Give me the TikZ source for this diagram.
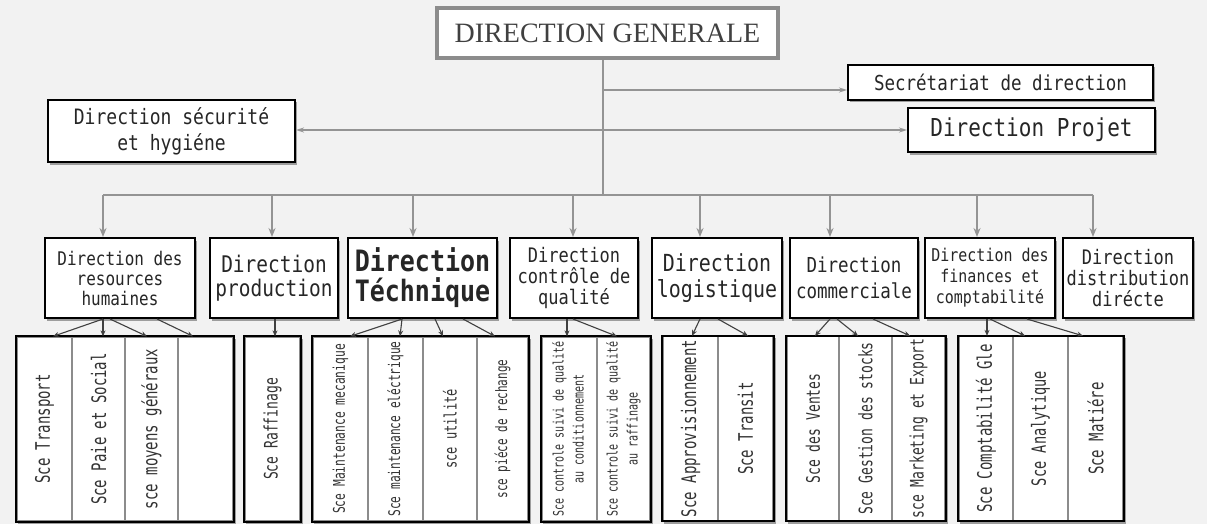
\documentclass[tikz,border=0pt]{standalone}
\usepackage{fontspec}
\setmainfont{Liberation Serif}
\newfontfamily\chartfont[FakeStretch=0.85]{DejaVu Sans Mono}
\newfontfamily\svcfont[FakeStretch=0.7]{DejaVu Sans Mono}
\usetikzlibrary{arrows.meta,shadows,calc}
\pgfdeclarelayer{paper}
\pgfdeclarelayer{under}
\pgfsetlayers{paper,under,main}

\begin{document}
\begin{tikzpicture}[x=1pt,y=-1pt,
  fs/.style 2 args={font=\chartfont\fontsize{#1}{#2}\selectfont},
  fb/.style 2 args={font=\chartfont\fontsize{#1}{#2}\selectfont\bfseries},
  sv/.style 2 args={font=\svcfont\fontsize{#1}{#2}\selectfont},
  softshadow/.style={drop shadow={shadow xshift=2pt,shadow yshift=-2.5pt,fill=black,opacity=0.35}},
  unitbox/.style={draw=black, line width=2pt, fill=white, align=center, inner sep=1pt,
    text=black!85, softshadow},
  headbox/.style={draw=black!45, line width=4.5pt, fill=white, inner sep=0pt, text=black!75,
    font=\fontsize{28}{32}\selectfont, softshadow},
  col/.style={draw=black!45, line width=1.3pt, fill=white, inner sep=0pt,
    minimum height=184pt, text=black!80},
  grp/.style={draw=black, line width=2pt},
  feed/.style={draw=black!42, line width=2.2pt, -{Stealth[length=9pt,width=7pt]}},
  side/.style={draw=black!42, line width=1.6pt, -{Stealth[length=8pt,width=5pt]}},
  link/.style={draw=black!75, line width=1.1pt, -{Stealth[length=6pt,width=5pt]}},
]
\begin{pgfonlayer}{paper}
  \fill[black!5] (0,0) rectangle (1207,524);
\end{pgfonlayer}
\useasboundingbox (0,0) rectangle (1207,524);

% ---------- top management ----------
\node[headbox, minimum width=341pt, minimum height=50pt] (dg) at (607.5,33) {DIRECTION GENERALE};

\node[unitbox, fs={20.6}{24}, minimum width=305pt, minimum height=35pt] (secr) at (1000.5,82.5) {Secrétariat de direction};
\node[unitbox, fs={24.7}{28}, minimum width=247pt, minimum height=44pt] (proj) at (1031.5,130) {Direction Projet};
\node[unitbox, fs={21.2}{26}, minimum width=247pt, minimum height=62pt] (secu) at (171.5,131) {Direction sécurité\\et hygiéne};

\coordinate (trunk) at (603,195);
\coordinate (tsec) at (603,90);
\coordinate (tmid) at (603,130);
\coordinate (busL) at (103,195);
\coordinate (busR) at (1093,195);

\draw[draw=black!42, line width=2.2pt] (trunk |- dg.south) -- (trunk);
\draw[draw=black!42, line width=2.2pt] (busL) -- (busR);
\draw[side] (tsec) -- (tsec -| secr.west);
\draw[side] (tmid) -- (tmid -| proj.west);
\draw[side] (tmid) -- (tmid -| secu.east);

% ---------- directions ----------
\node[unitbox, fs={18.8}{20}, minimum width=150pt, minimum height=80pt] (rh) at (120,278) {Direction des\\resources\\humaines};
\node[unitbox, fs={22.9}{24}, minimum width=128pt, minimum height=80pt] (prod) at (274,278) {Direction\\production};
\node[unitbox, fb={29.4}{30}, minimum width=149pt, minimum height=80pt] (tech) at (422.5,278) {Direction\\Téchnique};
\node[unitbox, fs={20}{21}, minimum width=128pt, minimum height=80pt] (qual) at (574,278) {Direction\\contrôle de\\qualité};
\node[unitbox, fs={23.5}{26}, minimum width=130pt, minimum height=80pt] (logi) at (717,278) {Direction\\logistique};
\node[unitbox, fs={20.6}{26}, minimum width=128pt, minimum height=80pt] (comm) at (854,278) {Direction\\commerciale};
\node[unitbox, fs={17.6}{21}, minimum width=130pt, minimum height=80pt] (fin) at (990,278) {Direction des\\finances et\\comptabilité};
\node[unitbox, fs={20}{21}, minimum width=130pt, minimum height=80pt] (dist) at (1128,278) {Direction\\distribution\\dirécte};

\coordinate (b1) at (103,195);
\coordinate (b2) at (272,195);
\coordinate (b3) at (413,195);
\coordinate (b4) at (573,195);
\coordinate (b5) at (700,195);
\coordinate (b6) at (830,195);
\coordinate (b7) at (977,195);
\coordinate (b8) at (1093,195);
\draw[feed] (b1) -- (b1 |- rh.north);
\draw[feed] (b2) -- (b2 |- prod.north);
\draw[feed] (b3) -- (b3 |- tech.north);
\draw[feed] (b4) -- (b4 |- qual.north);
\draw[feed] (b5) -- (b5 |- logi.north);
\draw[feed] (b6) -- (b6 |- comm.north);
\draw[feed] (b7) -- (b7 |- fin.north);
\draw[feed] (b8) -- (b8 |- dist.north);

% ---------- services ----------
% human resources
\node[col, sv={20}{24}, minimum width=55pt] (rh1) at (44.5,429) {\rotatebox{90}{Sce Transport}};
\node[col, sv={20}{24}, minimum width=53pt] (rh2) at (98.5,429) {\rotatebox{90}{Sce Paie et Social}};
\node[col, sv={20}{24}, minimum width=53pt] (rh3) at (151.5,429) {\rotatebox{90}{sce moyens généraux}};
\node[col, minimum width=55pt] (rh4) at (205.5,429) {};
% production
\node[col, sv={18.6}{22}, minimum width=55pt] (pr1) at (272.5,429) {\rotatebox{90}{Sce Raffinage}};
% technical
\node[col, sv={16.1}{20}, minimum width=55pt] (te1) at (340.5,429) {\rotatebox{90}{Sce Maintenance mecanique}};
\node[col, sv={16}{20}, minimum width=55pt] (te2) at (395.5,429) {\rotatebox{90}{Sce maintenance eléctrique}};
\node[col, sv={17.1}{20}, minimum width=54pt] (te3) at (450,429) {\rotatebox{90}{sce utilité}};
\node[col, sv={15.7}{20}, minimum width=51pt] (te4) at (502.5,429) {\rotatebox{90}{sce piéce de rechange}};
% quality control
\node[col, sv={14.3}{20}, minimum width=55pt] (qu1) at (569.5,429) {\rotatebox{90}{\begin{tabular}{@{}c@{}}Sce controle suivi de qualité\\au conditionnement\end{tabular}}};
\node[col, sv={14.3}{20}, minimum width=53pt] (qu2) at (623.5,429) {\rotatebox{90}{\begin{tabular}{@{}c@{}}Sce controle suivi de qualité\\au raffinage\end{tabular}}};
% logistics
\node[col, sv={20}{24}, minimum width=55pt] (lo1) at (690.5,428.5) {\rotatebox{90}{Sce Approvisionnement}};
\node[col, sv={20}{24}, minimum width=55pt] (lo2) at (745.5,428.5) {\rotatebox{90}{Sce Transit}};
% commercial
\node[col, sv={18.6}{22}, minimum width=52pt] (co1) at (813,428.5) {\rotatebox{90}{Sce des Ventes}};
\node[col, sv={18.6}{22}, minimum width=53pt] (co2) at (865.5,428.5) {\rotatebox{90}{Sce Gestion des stocks}};
\node[col, sv={18.6}{22}, minimum width=53pt] (co3) at (918.5,428.5) {\rotatebox{90}{sce Marketing et Export}};
% finance
\node[col, sv={20}{24}, minimum width=54pt] (fi1) at (986,428.5) {\rotatebox{90}{Sce Comptabilité Gle}};
\node[col, sv={19.5}{24}, minimum width=55pt] (fi2) at (1040.5,428.5) {\rotatebox{90}{Sce Analytique}};
\node[col, sv={20}{24}, minimum width=55pt] (fi3) at (1095.5,428.5) {\rotatebox{90}{Sce Matiére}};

% group frames: shadowed white panel beneath, black outline on top
\begin{pgfonlayer}{under}
  \foreach \a/\b in {rh1/rh4, pr1/pr1, te1/te4, qu1/qu2, lo1/lo2, co1/co3, fi1/fi3}
    \fill[white, softshadow] (\a.north west) rectangle (\b.south east);
\end{pgfonlayer}
\foreach \a/\b in {rh1/rh4, pr1/pr1, te1/te4, qu1/qu2, lo1/lo2, co1/co3, fi1/fi3}
  \draw[grp] (\a.north west) rectangle (\b.south east);

% links from directions to services
\draw[link] ([xshift=-17pt]rh.south) -- ([xshift=8.5pt]rh1.north);
\draw[link] ([xshift=-17pt]rh.south) -- ([xshift=4.5pt]rh2.north);
\draw[link] ([xshift=-10pt]rh.south) -- ([xshift=-4.5pt]rh3.north);
\draw[link] ([xshift=37pt]rh.south) -- ([xshift=-12.5pt]rh4.north);

\draw[link] ([xshift=1pt]prod.south) -- ([xshift=2.5pt]pr1.north);

\draw[link] ([xshift=-20.5pt]tech.south) -- ([xshift=9.5pt]te1.north);
\draw[link] ([xshift=-20.5pt]tech.south) -- ([xshift=4.5pt]te2.north);
\draw[link] ([xshift=12.5pt]tech.south) -- ([xshift=-7pt]te3.north);
\draw[link] ([xshift=40.5pt]tech.south) -- ([xshift=-7.5pt]te4.north);

\draw[link] ([xshift=-7pt]qual.south) -- ([xshift=-2.5pt]qu1.north);
\draw[link] ([xshift=-1pt]qual.south) -- ([xshift=-6.5pt]qu2.north);

\draw[link] ([xshift=-17pt]logi.south) -- ([xshift=1.5pt]lo1.north);
\draw[link] ([xshift=1pt]logi.south) -- ([xshift=2.5pt]lo2.north);

\draw[link] ([xshift=-24pt]comm.south) -- ([xshift=2pt]co1.north);
\draw[link] ([xshift=-17pt]comm.south) -- ([xshift=-7.5pt]co2.north);
\draw[link] ([xshift=19pt]comm.south) -- ([xshift=-8.5pt]co3.north);

\draw[link] ([xshift=-3pt]fin.south) -- ([xshift=1pt]fi1.north);
\draw[link] ([xshift=0pt]fin.south) -- ([xshift=-15.5pt]fi2.north);
\draw[link] ([xshift=37pt]fin.south) -- ([xshift=-12.5pt]fi3.north);
\end{tikzpicture}
\end{document}
